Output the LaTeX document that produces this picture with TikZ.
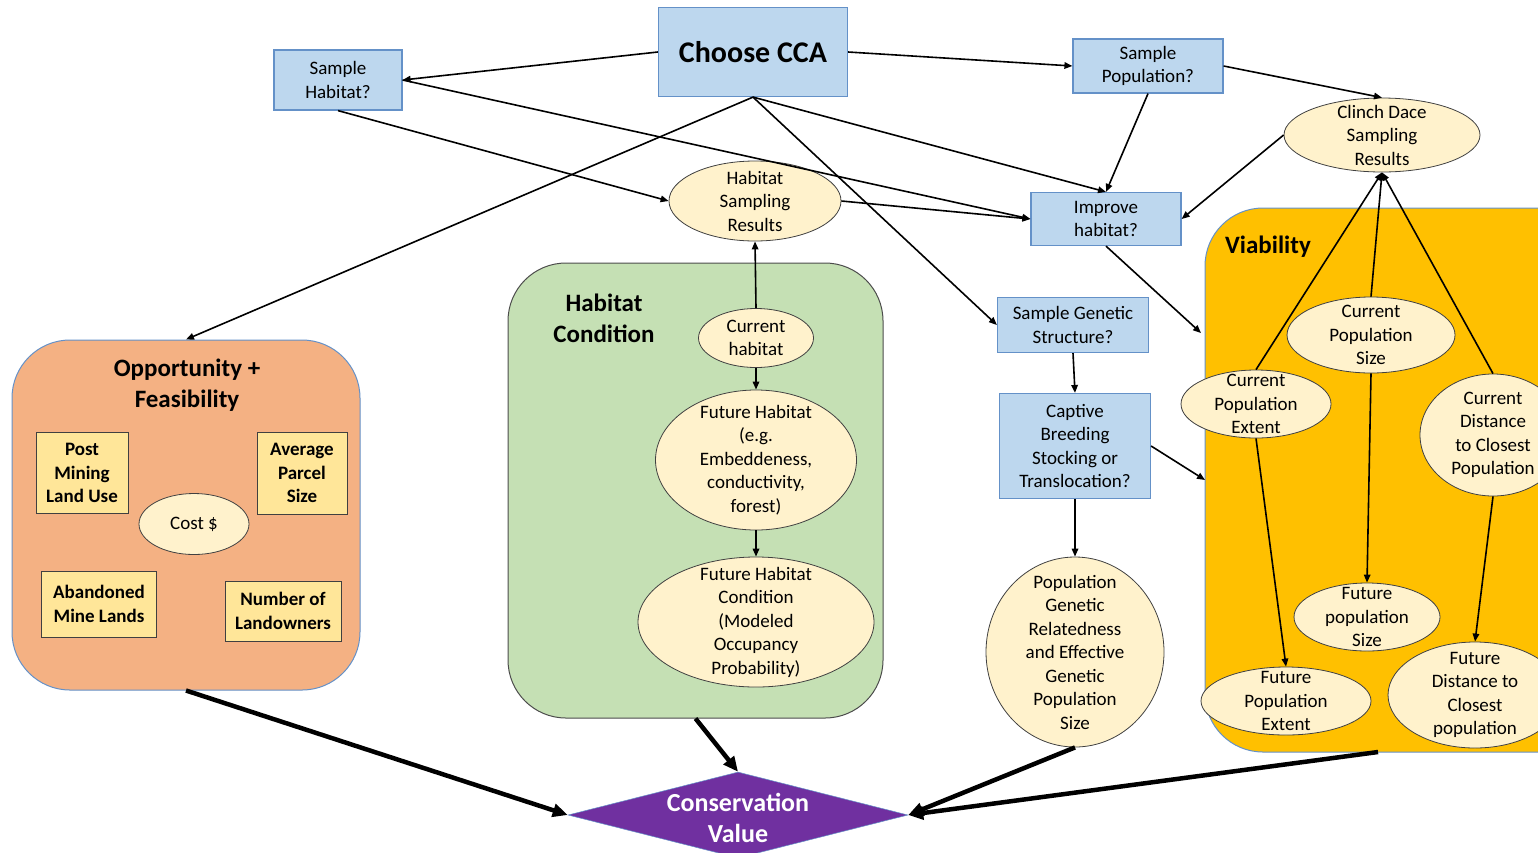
\documentclass[tikz,border=0pt]{standalone}
\usepackage{fontspec}
\setmainfont{Carlito}
\usetikzlibrary{shapes.geometric,arrows.meta}

\definecolor{qblue}{RGB}{189,215,238}
\definecolor{qblueline}{RGB}{100,145,200}
\definecolor{ovalfill}{RGB}{255,242,204}
\definecolor{oppfill}{RGB}{244,177,131}
\definecolor{habfill}{RGB}{197,224,180}
\definecolor{viafill}{RGB}{255,192,0}
\definecolor{factfill}{RGB}{255,230,153}
\definecolor{cvfill}{RGB}{112,48,160}

\tikzset{
  question/.style={draw=qblueline, fill=qblue, rectangle, align=center, inner sep=2pt, line width=1.2pt},
  oval/.style={draw=black!75, fill=ovalfill, ellipse, inner sep=0pt, line width=0.8pt},
  fact/.style={draw=black!75, fill=factfill, rectangle, align=center, font=\fontsize{19}{23.5}\selectfont\bfseries, line width=1pt},
  group/.style={rectangle, rounded corners=58pt, line width=1pt},
  grouptitle/.style={font=\fontsize{25}{31}\selectfont\bfseries, align=center},
  link/.style={-{Triangle[length=8pt,width=6.5pt]}, line width=1.6pt},
  biglink/.style={-{Triangle[length=15pt,width=13pt]}, line width=4.5pt},
  every label/.style={align=center},
}

\begin{document}
\begin{tikzpicture}[x=1pt, y=-1pt, font=\fontsize{19}{23.5}\selectfont]
\useasboundingbox (0,0) rectangle (1538,852);
\clip (0,0) rectangle (1538,852);

% Groups
\node[group, draw=qblueline, fill=oppfill, minimum width=348pt, minimum height=350pt] (opp) at (186,515) {};
\node[group, draw=black!70, fill=habfill, minimum width=375pt, minimum height=455pt] (hab) at (695.5,490.5) {};
\node[group, draw=qblueline, fill=viafill, minimum width=400pt, minimum height=544pt] (via) at (1405,480) {};

\node[grouptitle] (opptitle) at (187,385) {Opportunity +\\Feasibility};
\node[grouptitle] (habtitle) at (604,318) {Habitat\\Condition};
\node[grouptitle] (viatitle) at (1268,247) {Viability};

% Questions
\node[question, font=\fontsize{30}{36}\selectfont\bfseries, minimum width=189pt, minimum height=89pt] (cca) at (753,52) {Choose CCA};
\node[question, minimum width=128pt, minimum height=60pt] (shab) at (338,80) {Sample\\Habitat?};
\node[question, minimum width=150pt, minimum height=54pt] (spop) at (1148,66) {Sample\\Population?};
\node[question, minimum width=150pt, minimum height=53pt] (impr) at (1106,219) {Improve\\habitat?};
\node[question, minimum width=151pt, minimum height=55pt] (sgen) at (1073,325) {Sample Genetic\\Structure?};
\node[question, minimum width=151pt, minimum height=105pt] (capt) at (1075,446) {Captive\\Breeding\\Stocking or\\Translocation?};

% Sampling results
\node[oval, minimum width=196pt, minimum height=74pt, label={center:{Clinch Dace\\Sampling\\Results}}] (cds) at (1382,135) {};
\node[oval, minimum width=172pt, minimum height=80pt, label={center:{Habitat\\Sampling\\Results}}] (hsr) at (755,201) {};

% Opportunity + Feasibility
\node[fact, minimum width=92pt, minimum height=81pt] (post) at (82,473) {Post\\Mining\\Land Use};
\node[fact, minimum width=90pt, minimum height=82pt] (parcel) at (302,473) {Average\\Parcel\\Size};
\node[oval, minimum width=110pt, minimum height=61pt] (cost) at (194,524) {Cost \$};
\node[fact, minimum width=115pt, minimum height=66pt] (aband) at (99,604) {Abandoned\\Mine Lands};
\node[fact, minimum width=116pt, minimum height=60pt] (owners) at (283,611) {Number of\\Landowners};

% Habitat condition
\node[oval, minimum width=115pt, minimum height=59pt, label={center:{Current\\habitat}}] (curhab) at (756,338) {};
\node[oval, minimum width=201pt, minimum height=140pt, label={center:{Future Habitat\\(e.g.\\Embeddeness,\\conductivity,\\forest)}}] (futhab) at (756,460) {};
\node[oval, minimum width=236pt, minimum height=130pt, label={center:{Future Habitat\\Condition\\(Modeled\\Occupancy\\Probability)}}] (futcond) at (756,622) {};

% Genetics
\node[oval, minimum width=178pt, minimum height=190pt, label={center:{Population\\Genetic\\Relatedness\\and Effective\\Genetic\\Population\\Size}}] (popgen) at (1075,652) {};

% Viability
\node[oval, minimum width=168pt, minimum height=76pt, label={center:{Current\\Population\\Size}}] (cpsize) at (1371,335) {};
\node[oval, minimum width=150pt, minimum height=68pt, label={center:{Current\\Population\\Extent}}] (cpext) at (1256,404) {};
\node[oval, minimum width=146pt, minimum height=122pt, label={center:{Current\\Distance\\to Closest\\Population}}] (cdist) at (1493,435) {};
\node[oval, minimum width=146pt, minimum height=68pt, label={center:{Future\\population\\Size}}] (fpsize) at (1367,617) {};
\node[oval, minimum width=170pt, minimum height=68pt, label={center:{Future\\Population\\Extent}}] (fpext) at (1286,701) {};
\node[oval, minimum width=174pt, minimum height=106pt, label={center:{Future\\Distance to\\Closest\\population}}] (fdist) at (1475,695) {};

% Conservation value
\node[diamond, draw=qblueline, line width=0.5pt, fill=cvfill, minimum width=340pt, minimum height=86pt,
  label={[text=white, font=\fontsize{26}{31}\selectfont\bfseries, yshift=-3pt]center:{Conservation\\Value}}] (cv) at (738,815) {};

\coordinate (viain1) at (1201,333);
\coordinate (viain2) at (1205,480);
\coordinate (viaout) at (1378,752);

% Links
\draw[link] (cca.west) -- (shab.east);
\draw[link] (cca.east) -- (spop.west);
\draw[link] (spop.east) -- (cds.north);
\draw[link] (spop.south) -- (impr.north);
\draw[link] (cds.west) -- (impr.east);
\draw[link] (cca.south) -- (impr.north);
\draw[link] (cca.south) -- (sgen.west);
\draw[link] (cca.south) -- (opp.north);
\draw[link] (shab.east) -- (impr.west);
\draw[link] (shab.south) -- (hsr.west);
\draw[link] (hsr.east) -- (impr.west);
\draw[link] (curhab.north) -- (hsr.south);
\draw[link] (curhab.south) -- (futhab.north);
\draw[link] (futhab.south) -- (futcond.north);
\draw[link] (impr.south) -- (viain1);
\draw[link] (capt.east) -- (viain2);
\draw[link] (sgen.south) -- (capt.north);
\draw[link] (capt.south) -- (popgen.north);

\draw[link] (cpext.north) -- (cds.south);
\draw[link] (cpsize.north) -- (cds.south);
\draw[link] (cdist.north) -- (cds.south);
\draw[link] (cpext.south) -- (fpext.north);
\draw[link] (cpsize.south) -- (fpsize.north);
\draw[link] (cdist.south) -- (fdist.north);

% Into conservation value
\draw[biglink] (opp.south) -- (cv.west);
\draw[biglink] (hab.south) -- (cv.north);
\draw[biglink] (popgen.south) -- (cv.east);
\draw[biglink] (viaout) -- (cv.east);

\end{tikzpicture}
\end{document}
